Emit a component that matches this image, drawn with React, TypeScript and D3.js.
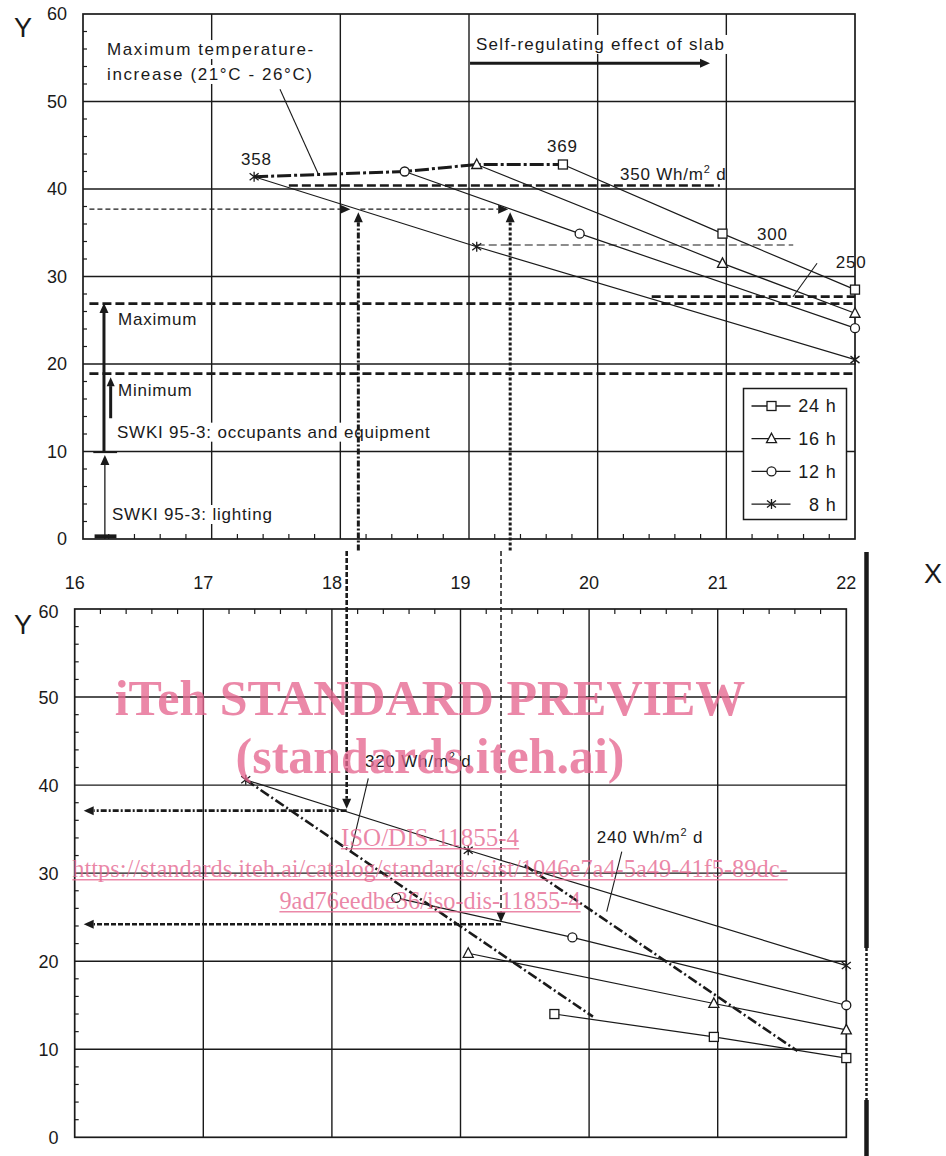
import { useEffect, useRef } from "react";
import * as d3 from "d3";

// axis ticks
const xTicks = [16, 17, 18, 19, 20, 21, 22];
const yTicks = [0, 10, 20, 30, 40, 50, 60];
const legendLabels = ["24 h", "16 h", "12 h", "8 h"];
const legendShapes = ["square", "triangle", "circle", "star"];

// upper chart, [x, y]
const top24 = [[19.73, 42.8], [20.97, 34.9], [22, 28.5]];
const top16 = [[19.06, 42.8], [20.97, 31.5], [22, 25.8]];
const top12 = [[18.5, 42.0], [19.86, 34.9], [22, 24.1]];
const top8 = [[17.33, 41.4], [19.06, 33.4], [22, 20.5]];
const topEnvelope = [[17.33, 41.4], [18.5, 42.0], [19.06, 42.8], [19.73, 42.8]];
const line350 = [[17.6, 40.4], [20.95, 40.4]];
const line300 = [[19.06, 33.6], [21.52, 33.6]];
const line250 = [[20.42, 27.7], [22, 27.7]];
const lineMax = [[16.05, 26.9], [22, 26.9]];
const lineMin = [[16.05, 18.9], [22, 18.9]];

// lower chart, [x, y]
const bot24 = [[19.73, 14.0], [20.97, 11.4], [22, 9.0]];
const bot16 = [[19.06, 20.9], [20.97, 15.2], [22, 12.2]];
const bot12 = [[18.5, 27.2], [19.87, 22.7], [22, 15.0]];
const bot8 = [[17.33, 40.6], [19.06, 32.6], [22, 19.5]];
const line320 = [[17.33, 40.6], [20.03, 13.7]];
const line240 = [[19.5, 30.9], [21.62, 9.8]];

// reading lines (temperatures / loads picked off)
const readXTop = [18.14, 19.32];
const readXBot = [18.115, 19.315];
const readYTop = 37.7;
const readYBot = [37.1, 24.2];

const INK = "#1a1a1a";
const SANS = "'Liberation Sans', Arial, sans-serif";
const SERIF = "'Liberation Serif', 'Times New Roman', serif";

export default function App() {
  const ref = useRef<SVGSVGElement | null>(null);

  useEffect(() => {
    const svg = d3.select(ref.current);
    svg.selectAll("*").remove();

    const xT = d3.scaleLinear().domain([16, 22]).range([83, 855]);
    const yT = d3.scaleLinear().domain([0, 60]).range([539, 14]);
    const xB = d3.scaleLinear().domain([16, 22]).range([74.7, 846.3]);
    const yB = d3.scaleLinear().domain([0, 60]).range([1137.3, 609]);

    const g = svg.append("g");

    const minorX = d3.range(0, 31).map((i) => 16 + i * 0.2).filter((v) => Math.abs(v - Math.round(v)) > 0.01);
    const minorY = d3.range(0, 31).map((i) => i * 2).filter((v) => v % 10 !== 0);

    function frame(x: any, y: any, tickSide: "bottom" | "top") {
      const fg = g.append("g");
      fg.selectAll(".vg").data(xTicks.slice(1, -1)).join("line")
        .attr("x1", (d) => x(d)).attr("x2", (d) => x(d))
        .attr("y1", y(0)).attr("y2", y(60))
        .attr("stroke", INK).attr("stroke-width", 1.4);
      fg.selectAll(".hg").data(yTicks.slice(1, -1)).join("line")
        .attr("x1", x(16)).attr("x2", x(22))
        .attr("y1", (d) => y(d)).attr("y2", (d) => y(d))
        .attr("stroke", INK).attr("stroke-width", 1.4);
      fg.append("rect")
        .attr("x", x(16)).attr("y", y(60))
        .attr("width", x(22) - x(16)).attr("height", y(0) - y(60))
        .attr("fill", "none").attr("stroke", INK).attr("stroke-width", 1.7);
      // minor ticks
      fg.selectAll(".my").data(minorY).join("line")
        .attr("x1", x(16)).attr("x2", x(16) + 4)
        .attr("y1", (d) => y(d)).attr("y2", (d) => y(d))
        .attr("stroke", INK).attr("stroke-width", 1.2);
      const ty = tickSide === "bottom" ? y(0) : y(60);
      const dir = tickSide === "bottom" ? -5 : 5;
      fg.selectAll(".mx").data(minorX).join("line")
        .attr("x1", (d) => x(d)).attr("x2", (d) => x(d))
        .attr("y1", ty).attr("y2", ty + dir)
        .attr("stroke", INK).attr("stroke-width", 1.2);
    }
    frame(xT, yT, "bottom");
    frame(xB, yB, "top");

    // y tick labels
    g.selectAll(".ylt").data(yTicks).join("text")
      .attr("x", 67).attr("y", (d) => yT(d)).attr("dy", "0.36em")
      .attr("text-anchor", "end").attr("font-family", SANS).attr("font-size", 18).attr("fill", INK)
      .text((d) => d);
    g.selectAll(".ylb").data(yTicks).join("text")
      .attr("x", 58.5).attr("y", (d) => yB(d) + (d === 60 ? 3 : 0)).attr("dy", "0.36em")
      .attr("text-anchor", "end").attr("font-family", SANS).attr("font-size", 18).attr("fill", INK)
      .text((d) => d);
    // x tick labels (between the two panels)
    g.selectAll(".xl").data(xTicks).join("text")
      .attr("x", (d) => xB(d)).attr("y", 589)
      .attr("text-anchor", "middle").attr("font-family", SANS).attr("font-size", 18).attr("fill", INK)
      .text((d) => d);

    // axis titles
    const title = (t: string, x: number, y: number) =>
      g.append("text").attr("x", x).attr("y", y).attr("text-anchor", "middle")
        .attr("font-family", SANS).attr("font-size", 27).attr("fill", INK).text(t);
    title("Y", 23, 37);
    title("Y", 23, 634);
    title("X", 933, 583);

    // right edge bar
    g.append("line").attr("x1", 866.5).attr("x2", 866.5).attr("y1", 552).attr("y2", 948)
      .attr("stroke", INK).attr("stroke-width", 4.5);
    g.append("line").attr("x1", 866.5).attr("x2", 866.5).attr("y1", 948).attr("y2", 1100)
      .attr("stroke", INK).attr("stroke-width", 2.5).attr("stroke-dasharray", "3,2");
    g.append("line").attr("x1", 866.5).attr("x2", 866.5).attr("y1", 1100).attr("y2", 1156)
      .attr("stroke", INK).attr("stroke-width", 4.5);

    // labels, optionally with a white box behind
    function label(t: string, x: number, y: number, bg = false, ls = 0.8, sup?: string, tail?: string) {
      const el = g.append("text").attr("x", x).attr("y", y)
        .attr("font-family", SANS).attr("font-size", 17).attr("fill", INK)
        .attr("letter-spacing", ls);
      el.append("tspan").text(t);
      if (sup) {
        el.append("tspan").attr("dy", -7).attr("font-size", 11).text(sup);
        el.append("tspan").attr("dy", 7).text(tail || "");
      }
      if (bg) {
        const b = (el.node() as SVGTextElement).getBBox();
        g.insert("rect", () => el.node())
          .attr("x", b.x - 3).attr("y", b.y).attr("width", b.width + 6).attr("height", b.height)
          .attr("fill", "#fff");
      }
      return el;
    }

    label("Maximum temperature-", xT(16.187), yT(55.31), true, 1.6);
    label("increase (21°C - 26°C)", xT(16.187), yT(52.46), true, 1.6);
    label("Self-regulating effect of slab", xT(19.054), yT(55.89), true, 1.3);
    label("SWKI 95-3: occupants and equipment", xT(16.264), yT(11.58), true);
    label("SWKI 95-3: lighting", xT(16.225), yT(2.17), true);
    label("Maximum", xT(16.272), yT(24.46));
    label("Minimum", xT(16.272), yT(16.38));
    label("358", xT(17.228), yT(42.74));
    label("369", xT(19.606), yT(44.23));
    label("350 Wh/m", xT(20.173), yT(41.03), false, 0.8, "2", " d");
    label("300", xT(21.238), yT(34.17));
    label("250", xT(21.85), yT(30.97));
    label("320 Wh/m", xB(18.257), yB(42.09), false, 0.8, "2", " d");
    label("240 Wh/m", xB(20.059), yB(33.46), false, 0.8, "2", " d");

    const seg = (x1: number, y1: number, x2: number, y2: number, w = 1.1, dash?: string) =>
      g.append("line").attr("x1", x1).attr("y1", y1).attr("x2", x2).attr("y2", y2)
        .attr("stroke", INK).attr("stroke-width", w).attr("stroke-dasharray", dash || null);

    // leader lines
    seg(xT(17.531), yT(51.39), xT(17.826), yT(41.79));
    seg(xT(21.518), yT(27.69), xT(21.705), yT(31.51));
    seg(xB(18.283), yB(40.77), xB(18.149), yB(32.52));
    seg(xB(20.254), yB(32.44), xB(20.137), yB(25.62));

    // arrow helper: line from (x1,y1) to tip (x2,y2)
    function arrow(x1: number, y1: number, x2: number, y2: number, w: number, dash?: string, head = 10) {
      const a = Math.atan2(y2 - y1, x2 - x1);
      const bx = x2 - Math.cos(a) * head;
      const by = y2 - Math.sin(a) * head;
      seg(x1, y1, bx, by, w, dash);
      const hw = head * 0.45;
      g.append("path")
        .attr("d", `M${x2},${y2}L${bx - Math.sin(a) * hw},${by + Math.cos(a) * hw}L${bx + Math.sin(a) * hw},${by - Math.cos(a) * hw}Z`)
        .attr("fill", INK);
    }

    const line = d3.line<number[]>();
    const drawPath = (pts: number[][], x: any, y: any, w: number, dash?: string) =>
      g.append("path").attr("d", line.x((d) => x(d[0])).y((d) => y(d[1]))(pts as any) || "")
        .attr("fill", "none").attr("stroke", INK).attr("stroke-width", w)
        .attr("stroke-dasharray", dash || null);

    // reference lines, upper chart
    drawPath(lineMax, xT, yT, 2.6, "9,4");
    drawPath(lineMin, xT, yT, 2.6, "9,4");
    drawPath(line250, xT, yT, 2.6, "9,4");
    drawPath(line350, xT, yT, 2.6, "9,4");
    drawPath(line300, xT, yT, 1.2, "8,4");

    // series lines
    const series = [
      [top24, bot24],
      [top16, bot16],
      [top12, bot12],
      [top8, bot8],
    ];
    series.forEach(([t, b]) => {
      drawPath(t, xT, yT, 1.2);
      drawPath(b, xB, yB, 1.2);
    });
    drawPath(topEnvelope, xT, yT, 3, "14,3,3,3");
    drawPath(line320, xB, yB, 2.6, "10,3,2,3");
    drawPath(line240, xB, yB, 2.6, "10,3,2,3");

    function marker(shape: string, cx: number, cy: number) {
      if (shape === "square") {
        g.append("rect").attr("x", cx - 4.5).attr("y", cy - 4.5).attr("width", 9).attr("height", 9)
          .attr("fill", "#fff").attr("stroke", INK).attr("stroke-width", 1.3);
      } else if (shape === "triangle") {
        g.append("path").attr("d", `M${cx},${cy - 5.5}L${cx + 5},${cy + 4}L${cx - 5},${cy + 4}Z`)
          .attr("fill", "#fff").attr("stroke", INK).attr("stroke-width", 1.3);
      } else if (shape === "circle") {
        g.append("circle").attr("cx", cx).attr("cy", cy).attr("r", 4.5)
          .attr("fill", "#fff").attr("stroke", INK).attr("stroke-width", 1.3);
      } else {
        g.append("path")
          .attr("d", `M${cx},${cy - 5}V${cy + 5}M${cx - 4.5},${cy - 3.5}L${cx + 4.5},${cy + 3.5}M${cx - 4.5},${cy + 3.5}L${cx + 4.5},${cy - 3.5}`)
          .attr("stroke", INK).attr("stroke-width", 1.3).attr("fill", "none");
      }
    }
    series.forEach(([t, b], i) => {
      t.forEach((p) => marker(legendShapes[i], xT(p[0]), yT(p[1])));
      b.forEach((p) => marker(legendShapes[i], xB(p[0]), yB(p[1])));
    });

    // left side load bars (upper chart)
    seg(xT(16.09), yT(0.3), xT(16.26), yT(0.3), 4);
    seg(xT(16.08), yT(9.9), xT(16.265), yT(9.9), 1.5);
    arrow(xT(16.17), yT(0), xT(16.17), yT(9.6), 1.3);
    arrow(xT(16.163), yT(10), xT(16.163), yT(26.97), 3);
    arrow(xT(16.215), yT(13.8), xT(16.215), yT(18.5), 3, undefined, 9);

    // self-regulating arrow
    arrow(xT(19.008), yT(54.37), xT(20.873), yT(54.37), 3);

    // reading lines, upper chart
    arrow(xT(16.05), yT(readYTop), xT(readXTop[0]) - 8, yT(readYTop), 1.3, "5,3");
    arrow(xT(readXTop[0]) + 2, yT(readYTop), xT(readXTop[1]) - 2, yT(readYTop), 1.3, "5,3");
    arrow(xT(readXTop[0]), yT(-1.3), xT(readXTop[0]), yT(readYTop) + 3, 3, "6,2,2,2");
    arrow(xT(readXTop[1]), yT(-1.3), xT(readXTop[1]), yT(readYTop) + 3, 3, "3,2");

    // reading lines, lower chart
    arrow(xB(readXBot[0]), yB(66.6), xB(readXBot[0]), yB(readYBot[0]) - 2, 2.6, "5,2");
    arrow(xB(readXBot[1]), yB(66.6), xB(readXBot[1]), yB(readYBot[1]) - 2, 1.5, "5,3");
    arrow(xB(readXBot[0]), yB(readYBot[0]), xB(16.07), yB(readYBot[0]), 2.6, "6,2,2,2");
    arrow(xB(readXBot[1]), yB(readYBot[1]), xB(16.07), yB(readYBot[1]), 2.6, "5,2");

    // legend
    const lg = g.append("g").attr("transform", "translate(743.5,388.5)");
    lg.append("rect").attr("width", 103).attr("height", 131)
      .attr("fill", "#fff").attr("stroke", INK).attr("stroke-width", 1.5);
    legendLabels.forEach((lab, i) => {
      const cy = 17.5 + i * 32.7;
      lg.append("line").attr("x1", 8).attr("x2", 47).attr("y1", cy).attr("y2", cy)
        .attr("stroke", INK).attr("stroke-width", 1.3);
      lg.append("text").attr("x", 93).attr("y", cy).attr("dy", "0.36em")
        .attr("text-anchor", "end").attr("font-family", SANS).attr("font-size", 18)
        .attr("letter-spacing", 0.8).attr("fill", INK).text(lab);
    });
    legendShapes.forEach((s, i) => marker(s, 771.5, 406 + i * 32.7));

    // watermark
    const wm = svg.append("g").attr("fill", "#e5668f").attr("fill-opacity", 0.78)
      .attr("font-family", SERIF).attr("text-anchor", "middle");
    const wmLine = (t: string, y: number, size: number, bold: boolean, underline: boolean) => {
      const el = wm.append("text").attr("x", 430).attr("y", y).attr("font-size", size)
        .attr("font-weight", bold ? "bold" : "normal").text(t);
      if (underline) {
        const w = (el.node() as SVGTextElement).getComputedTextLength();
        wm.append("rect").attr("x", 430 - w / 2).attr("y", y + 2).attr("width", w).attr("height", 1.5);
      }
    };
    wmLine("iTeh STANDARD PREVIEW", 715, 50, true, false);
    wmLine("(standards.iteh.ai)", 773, 50, true, false);
    wmLine("ISO/DIS-11855-4", 846, 25, false, true);
    wmLine("https://standards.iteh.ai/catalog/standards/sist/1046e7a4-5a49-41f5-89dc-", 877, 24.4, false, true);
    wmLine("9ad76eedbe36/iso-dis-11855-4", 909, 24.4, false, true);
  }, []);

  return (
    <svg
      ref={ref}
      width={946}
      height={1156}
      style={{ position: "absolute", left: 0, top: 0, background: "#fff" }}
    />
  );
}
